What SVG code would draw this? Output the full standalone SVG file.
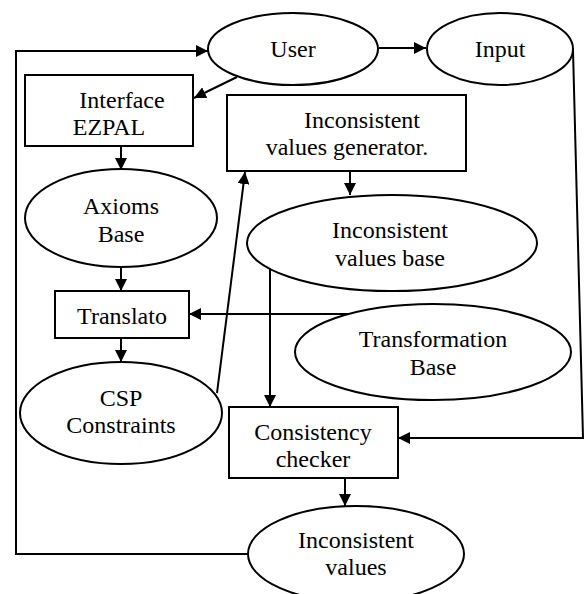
<svg xmlns="http://www.w3.org/2000/svg" width="585" height="594" viewBox="0 0 585 594">
<defs>
<marker id="ah" viewBox="0 0 12 12" refX="12" refY="6" markerWidth="12" markerHeight="12" markerUnits="userSpaceOnUse" orient="auto">
<path d="M0,0 L12,6 L0,12 z" fill="#000"/>
</marker>
<style>
.n{fill:#fff;stroke:#000;stroke-width:2}
.t{font-size:24px;fill:#000;text-anchor:middle}
.c{fill:none;stroke:#000;stroke-width:2;marker-end:url(#ah)}
</style>
</defs>
<rect width="585" height="594" fill="#fff"/>
<g id="connectors">
<path class="c" d="M379,48 L426,48"/>
<path class="c" d="M237,77 L194,98"/>
<path class="c" d="M121,146 L121,170"/>
<path class="c" d="M121,267 L121,291"/>
<path class="c" d="M121,338 L121,362"/>
<path class="c" d="M217,393 L245,172"/>
<path class="c" d="M350,171 L350,195"/>
<path class="c" d="M270,267 L270,407"/>
<path class="c" d="M352,314 L189,314"/>
<path class="c" d="M573,50 L583,438 L398,438"/>
<path class="c" d="M345,478 L345,506"/>
<path class="c" d="M248,554 L16,554 L16,51 L208,51"/>
</g>
<g font-family="Liberation Serif, DejaVu Serif, serif">
<g id="user"><ellipse class="n" cx="293" cy="49" rx="85" ry="36"/><text class="t" x="293" y="57">User</text></g>
<g id="input"><ellipse class="n" cx="500" cy="49" rx="73" ry="36"/><text class="t" x="500" y="57">Input</text></g>
<g id="interface"><rect class="n" x="25" y="75" width="168" height="71"/><text class="t" x="122" y="108">Interface</text><text class="t" x="109" y="135">EZPAL</text></g>
<g id="generator"><rect class="n" x="227" y="95" width="239" height="76"/><text class="t" x="362" y="128">Inconsistent</text><text class="t" x="347" y="155">values generator.</text></g>
<g id="axioms"><ellipse class="n" cx="121" cy="218" rx="96" ry="49"/><text class="t" x="121" y="214">Axioms</text><text class="t" x="121" y="242">Base</text></g>
<g id="ivbase"><ellipse class="n" cx="392" cy="243" rx="145" ry="48"/><text class="t" x="390" y="238">Inconsistent</text><text class="t" x="390" y="266">values base</text></g>
<g id="translato"><rect class="n" x="55" y="291" width="134" height="47"/><text class="t" x="122" y="324">Translato</text></g>
<g id="transformation"><ellipse class="n" cx="433" cy="352" rx="138" ry="48"/><text class="t" x="433" y="347">Transformation</text><text class="t" x="433" y="375">Base</text></g>
<g id="csp"><ellipse class="n" cx="121" cy="413" rx="101" ry="51"/><text class="t" x="121" y="406">CSP</text><text class="t" x="121" y="433">Constraints</text></g>
<g id="checker"><rect class="n" x="229" y="407" width="169" height="71"/><text class="t" x="313" y="440">Consistency</text><text class="t" x="313" y="467">checker</text></g>
<g id="ivalues"><ellipse class="n" cx="356" cy="554" rx="108" ry="48"/><text class="t" x="356" y="548">Inconsistent</text><text class="t" x="356" y="575">values</text></g>
</g>
</svg>
